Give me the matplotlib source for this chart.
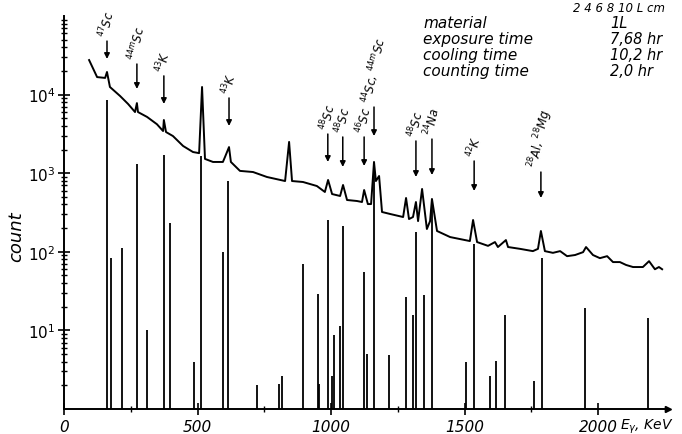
import matplotlib.pyplot as plt
import numpy as np
from matplotlib.ticker import FixedLocator, LogLocator, NullFormatter

plt.rcParams['font.family'] = ['DejaVu Sans']
plt.rcParams['mathtext.fontset'] = 'dejavusans'

# measured spectrum (energy in keV, counts)
curve_e = [94, 124, 154, 161, 172, 210, 240, 266, 273, 277, 311, 348, 371, 374,
           382, 408, 446, 483, 506, 517, 528, 558, 595, 603, 618, 625, 659, 708,
           760, 828, 843, 854, 895, 947, 977, 989, 1004, 1034, 1045, 1060, 1097,
           1116, 1124, 1138, 1150, 1161, 1168, 1180, 1191, 1221, 1270, 1281, 1292,
           1307, 1318, 1326, 1341, 1359, 1371, 1378, 1397, 1446, 1520, 1532, 1547,
           1588, 1614, 1625, 1655, 1663, 1708, 1756, 1775, 1786, 1801, 1831, 1858,
           1884, 1914, 1944, 1955, 1981, 2007, 2034, 2056, 2082, 2105, 2131, 2168,
           2191, 2213, 2228, 2240]
curve_counts = [27500, 16700, 16300, 19400, 12500, 9600, 7600, 6000, 7800, 6000,
                5200, 4200, 3440, 4750, 3340, 2970, 2220, 1860, 1800, 12500, 1520,
                1390, 1390, 1610, 2150, 1390, 1070, 1035, 895, 795, 2500, 795, 773,
                687, 577, 820, 543, 513, 708, 456, 443, 430, 611, 405, 405, 1390,
                795, 921, 321, 303, 277, 484, 261, 277, 430, 246, 630, 195, 246,
                470, 184, 154, 137, 254, 133, 119, 133, 115, 141, 115, 109, 102,
                109, 184, 102, 97, 102, 88, 91, 99, 115, 91, 83, 88, 74, 74, 68,
                64, 64, 76, 60, 64, 60]

# line intensities
line_e = [161, 176, 217, 273, 311, 374, 397, 487, 513, 595, 614, 723, 806, 817,
          896, 951, 955, 988, 1003, 1011, 1033, 1044, 1124, 1135, 1161, 1217,
          1281, 1306, 1318, 1348, 1378, 1506, 1536, 1596, 1618, 1652, 1760, 1790,
          1951, 2187]
line_counts = [8500, 83, 112, 1300, 10, 1700, 233, 4, 1660, 100, 800, 2, 2.1, 2.6,
               70, 29, 2.1, 254, 2.6, 8.7, 11.4, 213, 55, 5, 1380, 4.9, 26.7, 15.7,
               178, 28, 470, 4, 125, 2.6, 4.1, 15.7, 2.3, 83, 19, 14.4]

# identified peaks
peak_e = [161, 273, 374, 618, 988, 1044, 1124, 1161, 1318, 1378, 1536, 1786]
peak_tail = [48000, 24500, 17300, 9060, 3150, 2890, 2890, 6950, 2570, 2720, 1430, 1035]
peak_tip = [28400, 11800, 7600, 3990, 1390, 1200, 1235, 2970, 895, 948, 594, 484]
peak_labels = ['$^{47}$Sc', '$^{44m}$Sc', '$^{43}$K', '$^{43}$K', '$^{48}$Sc',
               '$^{48}$Sc', '$^{46}$Sc', '$^{44}$Sc, $^{44m}$Sc', '$^{48}$Sc',
               '$^{24}$Na', '$^{42}$K', '$^{28}$Al, $^{28}$Mg']

info_names = ['material', 'exposure time', 'cooling time', 'counting time']
info_values = ['1L', '7,68 hr', '10,2 hr', '2,0 hr']

fig = plt.figure(figsize=(6.82, 4.35), dpi=100)
ax = fig.add_axes([64 / 682, 1 - 410 / 435, 604 / 682, 393 / 435])

ax.plot(curve_e, curve_counts, color='k', lw=1.4)
ax.vlines(line_e, 1, line_counts, color='k', lw=1.3)

for e, t0, t1, lab in zip(peak_e, peak_tail, peak_tip, peak_labels):
    ax.annotate('', xy=(e, t1), xytext=(e, t0),
                arrowprops=dict(arrowstyle='-|>', color='k', lw=1.1,
                                mutation_scale=8, shrinkA=0, shrinkB=0))
    ax.text(e, t0 * 1.08, lab, rotation=78, ha='center', va='bottom',
            fontsize=8.5, style='italic')

ax.set_yscale('log')
ax.set_xlim(0, 2262)
ax.set_ylim(1, 1e5)
for s in ['top', 'right']:
    ax.spines[s].set_visible(False)
for s in ['left', 'bottom']:
    ax.spines[s].set_linewidth(1.4)

ax.set_xticks([0, 500, 1000, 1500, 2000])
ax.set_xticklabels(['0', '500', '1000', '1500', '2000'], style='italic', fontsize=11)
ax.xaxis.set_minor_locator(FixedLocator([250, 750, 1250, 1750, 2250]))
ax.set_yticks([10, 100, 1000, 10000])
ax.set_yticklabels(['$10^1$', '$10^2$', '$10^3$', '$10^4$'], fontsize=11)
ax.yaxis.set_minor_locator(LogLocator(base=10, subs=np.arange(2, 10)))
ax.yaxis.set_minor_formatter(NullFormatter())
ax.tick_params(which='major', direction='inout', length=8, width=1.2)
ax.tick_params(which='minor', direction='inout', length=4, width=1.0)
ax.tick_params(axis='x', pad=3)
ax.tick_params(axis='y', pad=2)

ax.plot(1, 0, '>k', transform=ax.transAxes, clip_on=False, markersize=5)

ax.set_ylabel('count', style='italic', fontsize=13)
ax.yaxis.set_label_coords(-0.065, 0.44)
fig.text(620 / 682, 1 - 427 / 435, '$E_\\gamma$, KeV', style='italic',
         fontsize=10, va='center')

fig.text(573 / 682, 1 - 12 / 435, '2 4 6 8 10 L cm', style='italic', fontsize=8.5)
base_y = [28, 44, 60, 76]
for name, val, y in zip(info_names, info_values, base_y):
    fig.text(423 / 682, 1 - y / 435, name, style='italic', fontsize=11)
    fig.text(610 / 682, 1 - y / 435, val, style='italic', fontsize=10.5)

fig.savefig('out.png', dpi=100)
